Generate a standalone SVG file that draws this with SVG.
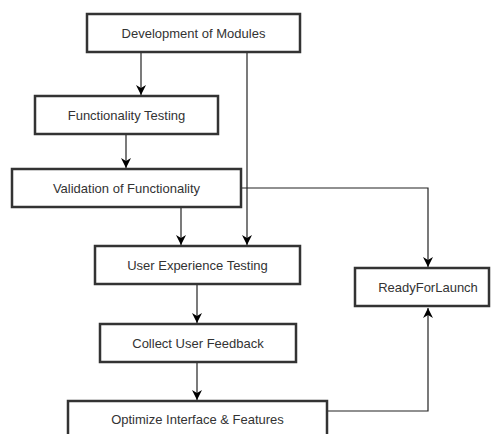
<svg xmlns="http://www.w3.org/2000/svg" width="491" height="434" viewBox="0 0 491 434">
<defs>
<marker id="ah" viewBox="0 0 10 10" refX="10" refY="5" markerWidth="10" markerHeight="10" markerUnits="userSpaceOnUse" orient="auto">
<path d="M0,0 L10,5 L0,10 L3,5 z" fill="#000"/>
</marker>
<style>
.box{fill:#fff;stroke:#333;stroke-width:2.5}
.lbl{font-family:"Liberation Sans",Arial,sans-serif;font-size:13px;fill:#333;text-anchor:middle}
.con{fill:none;stroke:#222;stroke-width:1.2;marker-end:url(#ah)}
</style>
</defs>
<rect width="491" height="434" fill="#fff"/>
<g id="connectors">
<path class="con" d="M141,53 V95"/>
<path class="con" d="M247,53 V245"/>
<path class="con" d="M126,135 V168"/>
<path class="con" d="M181,208 V245"/>
<path class="con" d="M241,188 H428 V267"/>
<path class="con" d="M197,285 V323"/>
<path class="con" d="M197,363 V400"/>
<path class="con" d="M327,411 H428 V308"/>
</g>
<g id="n1"><rect class="box" x="87" y="14" width="213" height="38"/><text class="lbl" x="193.5" y="37.5">Development of Modules</text></g>
<g id="n2"><rect class="box" x="35" y="96" width="183" height="38"/><text class="lbl" x="126.5" y="119.5">Functionality Testing</text></g>
<g id="n3"><rect class="box" x="12" y="169" width="229" height="38"/><text class="lbl" x="126.5" y="192.5">Validation of Functionality</text></g>
<g id="n4"><rect class="box" x="95" y="246" width="205" height="38"/><text class="lbl" x="197.5" y="269.5">User Experience Testing</text></g>
<g id="n5"><rect class="box" x="355" y="268" width="134" height="38"/><text class="lbl" x="428" y="291.5">ReadyForLaunch</text></g>
<g id="n6"><rect class="box" x="100" y="324" width="196" height="38"/><text class="lbl" x="198" y="347.5">Collect User Feedback</text></g>
<g id="n7"><rect class="box" x="68" y="401" width="259" height="38"/><text class="lbl" x="197.5" y="423.5">Optimize Interface &amp; Features</text></g>
</svg>
